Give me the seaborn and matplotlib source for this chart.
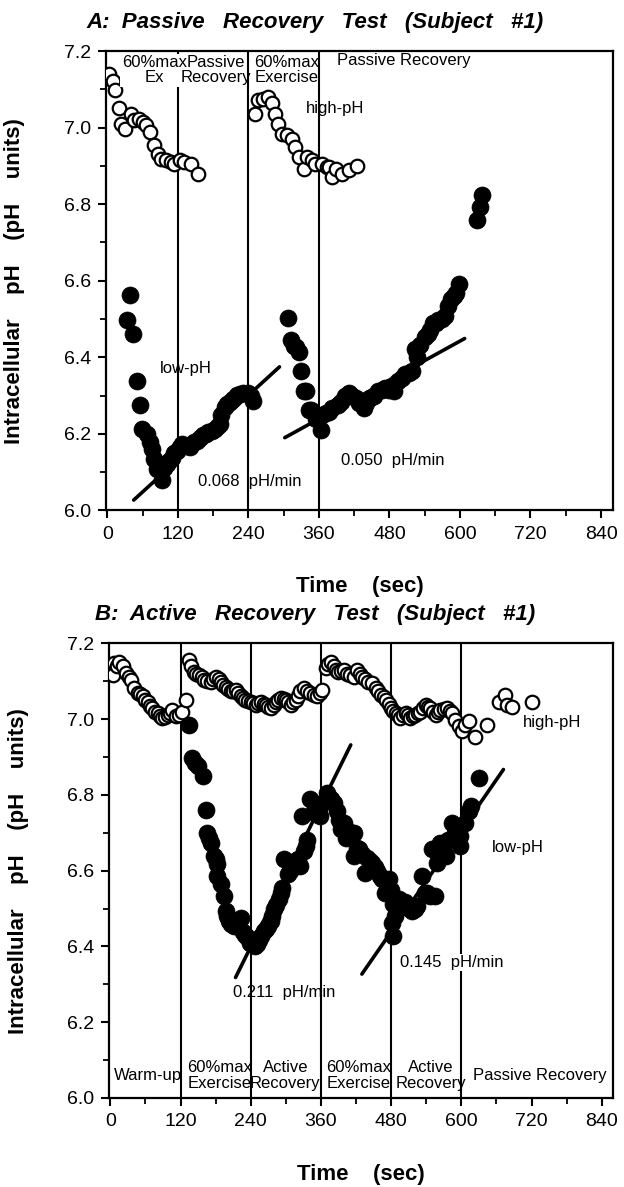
# Intracellular pH during passive vs active recovery (Subject #1)
# two panels, open circles = high-pH peak, filled circles = low-pH peak

import numpy as np
import pandas as pd
import matplotlib
matplotlib.use('Agg')
import matplotlib.pyplot as plt
import seaborn as sns
from matplotlib.ticker import MultipleLocator

# ---- Panel A: passive recovery test ----
a_high_t = [3, 9, 13, 20, 23, 31, 40, 46, 54, 60, 66, 73, 80, 86, 91, 100, 109, 114, 123, 131, 143, 154,
            251, 257, 265, 274, 280, 286, 291, 297, 306, 314, 320, 326, 334, 340, 349, 354, 366, 374, 377,
            383, 389, 399, 411, 425]
a_high_ph = [7.141, 7.123, 7.099, 7.05, 7.01, 6.997, 7.036, 7.019, 7.023, 7.015, 7.006, 6.989, 6.954, 6.932,
             6.919, 6.915, 6.910, 6.906, 6.915, 6.910, 6.906, 6.880,
             7.036, 7.071, 7.075, 7.08, 7.063, 7.036, 7.01, 6.984, 6.98, 6.971, 6.95, 6.923, 6.893, 6.923,
             6.915, 6.906, 6.906, 6.897, 6.897, 6.871, 6.893, 6.88, 6.89, 6.90]

a_low_t = [33, 39, 44, 51, 56, 59, 68, 73, 76, 79, 85, 90, 93, 97, 101, 105, 110, 114, 118, 123, 127, 135,
           140, 144, 148, 152, 158, 163, 168, 172, 178, 183, 188, 192, 194, 200, 204, 208, 214, 220, 226, 231,
           239, 244, 248,
           307, 313, 318, 321, 327, 330, 335, 338, 344, 346, 355, 363, 366, 372, 378, 383, 392, 397, 405, 411,
           417, 423, 429, 436, 441, 447, 454, 461, 467, 473, 480, 487, 495, 501, 507, 513, 518, 523, 527, 532,
           540, 545, 549, 554, 559, 563, 569, 574, 580, 585, 590, 594, 599,
           629, 634, 637]
a_low_ph = [6.498, 6.564, 6.462, 6.338, 6.276, 6.213, 6.2, 6.178, 6.16, 6.133, 6.107, 6.107, 6.08, 6.11,
            6.12, 6.13, 6.138, 6.15, 6.156, 6.165, 6.173, 6.169, 6.165, 6.173, 6.178, 6.182, 6.19, 6.196, 6.2,
            6.204, 6.208, 6.213, 6.22, 6.227, 6.249, 6.271, 6.278, 6.284, 6.29, 6.302, 6.305, 6.307, 6.307,
            6.30, 6.286,
            6.502, 6.444, 6.43, 6.427, 6.413, 6.364, 6.311, 6.311, 6.262, 6.262, 6.24, 6.209, 6.249, 6.255,
            6.258, 6.267, 6.276, 6.284, 6.30, 6.307, 6.30, 6.293, 6.28, 6.267, 6.28, 6.293, 6.30, 6.311,
            6.315, 6.32, 6.315, 6.311, 6.338, 6.347, 6.356, 6.36, 6.364, 6.422, 6.40, 6.431, 6.453, 6.46,
            6.471, 6.489, 6.49, 6.498, 6.50, 6.507, 6.533, 6.551, 6.56, 6.569, 6.591,
            6.758, 6.792, 6.823]

# recovery slope lines (start/end)
a_fit_t = [[45, 293], [302, 608]]
a_fit_ph = [[6.027, 6.375], [6.19, 6.449]]
a_phases = [120, 240, 360]

# ---- Panel B: active recovery test ----
b_high_t = [4, 7, 11, 15, 21, 27, 31, 35, 41, 47, 51, 55, 60, 64, 68, 72, 77, 81, 85, 89, 94, 98, 102, 106,
            112, 117, 123, 129,
            135, 138, 143, 147, 152, 156, 160, 166, 172, 176, 180, 185, 189, 193, 197, 201, 206, 210, 214,
            218, 223, 227, 231, 236, 240, 244, 249, 253, 257, 262, 266, 270, 274, 279, 283, 287, 291, 296,
            300, 304, 308, 313, 317, 321, 325, 331, 336, 342, 348, 354, 358, 362,
            368, 372, 377, 382, 386, 390, 394, 399, 404, 410, 416, 422, 426, 431, 436, 441, 448, 454, 458,
            462, 467, 472, 476, 480, 484, 488, 492, 496, 500, 505, 509, 513, 517, 521, 526, 530, 535, 539,
            543, 547, 551, 556, 560, 564, 570, 575, 580, 584, 590, 596, 601, 607, 613, 624, 644, 664, 675,
            678, 686, 720]
b_high_ph = [7.117, 7.147, 7.14, 7.152, 7.139, 7.121, 7.11, 7.104, 7.082, 7.068, 7.065, 7.06, 7.05, 7.046,
             7.035, 7.029, 7.02, 7.016, 7.008, 7.003, 7.005, 7.011, 7.015, 7.025, 7.007, 7.01, 7.02, 7.051,
             7.156, 7.139, 7.125, 7.12, 7.117, 7.11, 7.104, 7.10, 7.099, 7.105, 7.112, 7.105, 7.099, 7.09,
             7.086, 7.08, 7.073, 7.075, 7.077, 7.068, 7.06, 7.055, 7.051, 7.048, 7.046, 7.042, 7.038, 7.042,
             7.046, 7.04, 7.038, 7.033, 7.029, 7.038, 7.046, 7.05, 7.055, 7.052, 7.051, 7.045, 7.038, 7.045,
             7.051, 7.062, 7.073, 7.082, 7.075, 7.068, 7.064, 7.06, 7.07, 7.077,
             7.134, 7.145, 7.152, 7.139, 7.13, 7.125, 7.128, 7.13, 7.12, 7.117, 7.112, 7.13, 7.12, 7.112,
             7.105, 7.099, 7.095, 7.082, 7.073, 7.064, 7.058, 7.051, 7.04, 7.029, 7.022, 7.016, 7.01, 7.003,
             7.01, 7.016, 7.01, 7.003, 7.007, 7.011, 7.015, 7.02, 7.03, 7.038, 7.033, 7.029, 7.02, 7.011,
             7.018, 7.025, 7.027, 7.029, 7.022, 7.016, 6.998, 6.981, 6.968, 6.985, 6.994, 6.954, 6.985,
             7.046, 7.064, 7.038, 7.033, 7.046]

b_low_t = [135, 140, 145, 149, 158, 163, 166, 169, 172, 177, 180, 183, 183, 189, 194, 197, 200, 203, 207,
           212, 223, 226, 230, 234, 239, 243, 247, 251, 254, 257, 262, 266, 270, 274, 277, 280, 284, 288, 291,
           294, 297, 303, 307, 311, 316, 320, 325, 328, 331, 334, 337, 342, 348, 352, 357, 359, 365, 371, 377,
           383, 388, 391, 394, 399, 402, 407, 413, 416, 416, 421, 425, 431, 436, 439, 444, 448, 452, 456, 461,
           465, 470, 476, 480, 482, 484, 484, 486, 490, 493, 497, 500, 504, 507, 512, 516, 520, 524, 533, 538,
           542, 546, 550, 555, 558, 564, 568, 573, 578, 584, 590, 594, 598, 598, 607, 613, 616, 630]
b_low_ph = [6.985, 6.897, 6.885, 6.875, 6.849, 6.761, 6.70, 6.685, 6.674, 6.639, 6.63, 6.617, 6.586, 6.564,
            6.533, 6.494, 6.48, 6.468, 6.46, 6.454, 6.476, 6.437, 6.43, 6.424, 6.41, 6.406, 6.40, 6.406,
            6.418, 6.428, 6.44, 6.446, 6.455, 6.468, 6.48, 6.498, 6.51, 6.525, 6.54, 6.555, 6.63, 6.59, 6.60,
            6.617, 6.625, 6.63, 6.612, 6.744, 6.652, 6.665, 6.682, 6.788, 6.757, 6.75, 6.766, 6.744, 6.78,
            6.805, 6.79, 6.779, 6.757, 6.735, 6.709, 6.726, 6.687, 6.704, 6.696, 6.70, 6.639, 6.66, 6.656,
            6.643, 6.595, 6.634, 6.625, 6.621, 6.61, 6.599, 6.585, 6.577, 6.542, 6.577, 6.55, 6.463, 6.511,
            6.428, 6.48, 6.50, 6.525, 6.52, 6.51, 6.516, 6.503, 6.50, 6.494, 6.50, 6.507, 6.586, 6.542, 6.54,
            6.533, 6.656, 6.533, 6.621, 6.674, 6.66, 6.639, 6.68, 6.726, 6.70, 6.68, 6.665, 6.691, 6.726,
            6.757, 6.77, 6.845]

b_fit_t = [[214, 411], [430, 672]]
b_fit_ph = [[6.318, 6.932], [6.327, 6.867]]
b_phases = [120, 240, 360, 480, 600]

sns.set_style('ticks')
plt.rcParams['font.family'] = ['Liberation Sans', 'DejaVu Sans']
plt.rcParams['axes.linewidth'] = 1.6
for key in ['text.color', 'axes.labelcolor', 'xtick.color', 'ytick.color', 'axes.edgecolor']:
    plt.rcParams[key] = 'black'
narrow = ['Liberation Sans Narrow', 'Liberation Sans', 'DejaVu Sans']

fig = plt.figure(figsize=(6.24, 11.87), dpi=100)
ax_a = fig.add_axes([0.170, 0.570, 0.812, 0.387])
ax_b = fig.add_axes([0.175, 0.075, 0.808, 0.383])


def draw_panel(ax, high_t, high_ph, low_t, low_ph, fit_t, fit_ph, phases):
    for x in phases:
        ax.axvline(x, color='black', lw=1.5, zorder=1)
    hi = pd.DataFrame({'t': high_t, 'ph': high_ph})
    lo = pd.DataFrame({'t': low_t, 'ph': low_ph})
    sns.scatterplot(data=hi, x='t', y='ph', ax=ax, s=95, color='white',
                    edgecolor='black', linewidth=1.6, zorder=3)
    sns.scatterplot(data=lo, x='t', y='ph', ax=ax, s=150, color='black',
                    edgecolor='black', linewidth=0.5, zorder=3)
    for ft, fp in zip(fit_t, fit_ph):
        ax.plot(ft, fp, color='black', lw=2.6, zorder=4)
    ax.set_xlim(-2, 860)
    ax.set_ylim(6.0, 7.2)
    ax.xaxis.set_major_locator(MultipleLocator(120))
    ax.xaxis.set_minor_locator(MultipleLocator(60))
    ax.yaxis.set_major_locator(MultipleLocator(0.2))
    ax.yaxis.set_minor_locator(MultipleLocator(0.1))
    ax.yaxis.set_major_formatter(plt.FormatStrFormatter('%.1f'))
    ax.tick_params(which='major', direction='out', length=6, width=1.5, labelsize=14, pad=5)
    ax.tick_params(which='minor', direction='out', length=4, width=1.3)
    for sp in ax.spines.values():
        sp.set_visible(True)
        sp.set_color('black')
    ax.set_xlabel('Time    (sec)', fontsize=16, fontweight='bold', labelpad=24)
    ax.set_ylabel('Intracellular    pH    (pH    units)', fontsize=16, fontweight='bold')
    ax.yaxis.set_label_coords(-0.16, 0.5)


draw_panel(ax_a, a_high_t, a_high_ph, a_low_t, a_low_ph, a_fit_t, a_fit_ph, a_phases)
draw_panel(ax_b, b_high_t, b_high_ph, b_low_t, b_low_ph, b_fit_t, b_fit_ph, b_phases)

wb = dict(facecolor='white', edgecolor='none', pad=1)

# panel A annotations
ax_a.text(80, 7.15, '60%max\nEx', family=narrow, fontsize=12, ha='center', va='center',
          linespacing=1.05, bbox=wb, zorder=5)
ax_a.text(185, 7.15, 'Passive\nRecovery', family=narrow, fontsize=12, ha='center', va='center',
          linespacing=1.05, zorder=5)
ax_a.text(306, 7.15, '60%max\nExercise', family=narrow, fontsize=12, ha='center', va='center',
          linespacing=1.05, zorder=5)
ax_a.text(505, 7.175, 'Passive Recovery', family=narrow, fontsize=12, ha='center', va='center', zorder=5)
ax_a.text(387, 7.05, 'high-pH', fontsize=12, ha='center', va='center', zorder=5)
ax_a.text(134, 6.37, 'low-pH', fontsize=12, ha='center', va='center', zorder=5)
ax_a.text(242, 6.076, '0.068  pH/min', fontsize=12, ha='center', va='center', zorder=5)
ax_a.text(485, 6.13, '0.050  pH/min', fontsize=12, ha='center', va='center', zorder=5)

# panel B annotations
for tx, lab in [(65, 'Warm-up'), (187, '60%max\nExercise'), (299, 'Active\nRecovery'),
                (425, '60%max\nExercise'), (548, 'Active\nRecovery'), (735, 'Passive Recovery')]:
    ax_b.text(tx, 6.06, lab, family=narrow, fontsize=12, ha='center', va='center',
              linespacing=1.05, zorder=5)
ax_b.text(297, 6.279, '0.211  pH/min', fontsize=12, ha='center', va='center', zorder=5)
ax_b.text(584, 6.358, '0.145  pH/min', fontsize=12, ha='center', va='center', bbox=wb, zorder=5)
ax_b.text(697, 6.66, 'low-pH', fontsize=12, ha='center', va='center', zorder=5)
ax_b.text(756, 6.99, 'high-pH', fontsize=12, ha='center', va='center', zorder=5)

fig.text(0.505, 0.981, 'A:  Passive   Recovery   Test   (Subject   #1)', fontsize=16,
         fontweight='bold', fontstyle='italic', ha='center', va='center')
fig.text(0.505, 0.482, 'B:  Active   Recovery   Test   (Subject   #1)', fontsize=16,
         fontweight='bold', fontstyle='italic', ha='center', va='center')

fig.savefig('out.png', dpi=100)
